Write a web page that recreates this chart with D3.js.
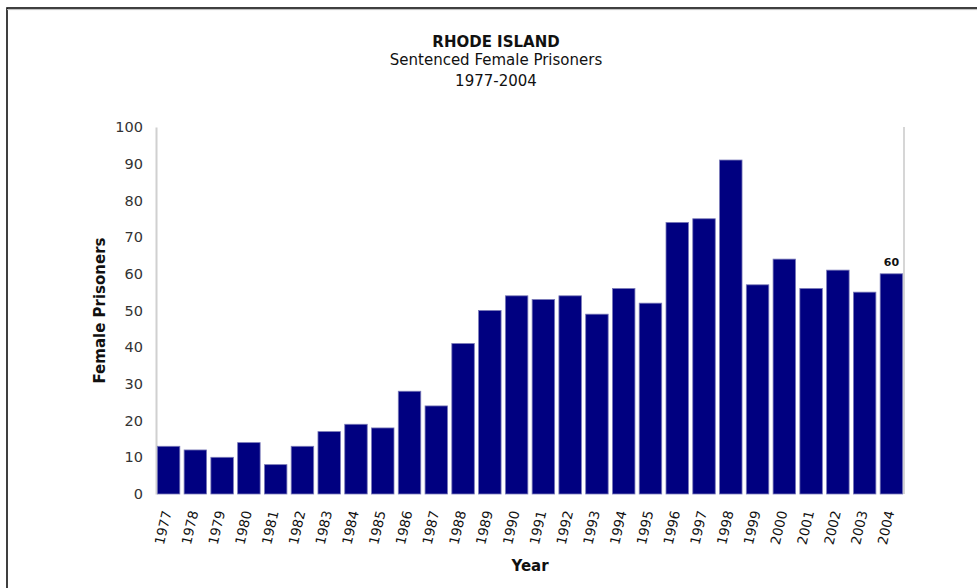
<!DOCTYPE html>
<html>
<head>
<meta charset="utf-8">
<script src="https://cdn.jsdelivr.net/npm/d3@7"></script>
<style>
  body { margin: 0; background: #fff; }
  text { font-family: "DejaVu Sans", Verdana, sans-serif; }
</style>
</head>
<body>
<div id="chart"></div>
<script>
var years = ["1977","1978","1979","1980","1981","1982","1983","1984","1985","1986",
             "1987","1988","1989","1990","1991","1992","1993","1994","1995","1996",
             "1997","1998","1999","2000","2001","2002","2003","2004"];
var prisoners = [13, 12, 10, 14, 8, 13, 17, 19, 18, 28,
                 24, 41, 50, 54, 53, 54, 49, 56, 52, 74,
                 75, 91, 57, 64, 56, 61, 55, 60];
var yTicks = [0, 10, 20, 30, 40, 50, 60, 70, 80, 90, 100];

var W = 977, H = 588;
var margin = {top: 127, right: 73, bottom: 94, left: 156},
    width = W - margin.left - margin.right,
    height = H - margin.top - margin.bottom;

var svg = d3.select("#chart")
    .append("svg")
    .attr("width", W)
    .attr("height", H);

// outer frame
svg.append("rect")
    .attr("x", 7)
    .attr("y", 8)
    .attr("width", 990)
    .attr("height", 600)
    .attr("fill", "none")
    .attr("stroke", "#111")
    .attr("stroke-width", 1.6);
svg.append("line")
    .attr("x1", 7).attr("x2", W)
    .attr("y1", 9.6).attr("y2", 9.6)
    .attr("stroke", "#bbb")
    .attr("stroke-width", 1);

// titles
svg.append("text")
    .attr("x", 496).attr("y", 47)
    .attr("text-anchor", "middle")
    .attr("font-size", "15px")
    .attr("font-weight", "bold")
    .attr("fill", "#111")
    .text("RHODE ISLAND");
svg.append("text")
    .attr("x", 496).attr("y", 65)
    .attr("text-anchor", "middle")
    .attr("font-size", "15px")
    .attr("fill", "#111")
    .text("Sentenced Female Prisoners");
svg.append("text")
    .attr("x", 496).attr("y", 86)
    .attr("text-anchor", "middle")
    .attr("font-size", "15px")
    .attr("fill", "#111")
    .text("1977-2004");

var g = svg.append("g")
    .attr("transform", "translate(" + margin.left + "," + margin.top + ")");

var x = d3.scaleBand()
    .domain(years)
    .range([0, width])
    .paddingInner(0.16)
    .paddingOuter(0.05);

var y = d3.scaleLinear()
    .domain([0, 100])
    .range([height, 0]);

// y axis
var yAxis = g.append("g")
    .call(d3.axisLeft(y).tickValues(yTicks).tickSize(0).tickPadding(13));
yAxis.select(".domain").attr("stroke", "#d0d0d0").attr("stroke-width", 2);
yAxis.selectAll("text")
    .attr("font-size", "14.5px")
    .attr("fill", "#333")
    .style("font-family", "'DejaVu Sans', Verdana, sans-serif");

// right edge line
g.append("line")
    .attr("x1", width).attr("x2", width)
    .attr("y1", 0).attr("y2", height)
    .attr("stroke", "#c8c8c8")
    .attr("stroke-width", 1.5);

// bars
g.selectAll("rect.bar")
    .data(years)
    .enter()
    .append("rect")
    .attr("class", "bar")
    .attr("x", function(d) { return x(d); })
    .attr("y", function(d, i) { return y(prisoners[i]); })
    .attr("width", x.bandwidth())
    .attr("height", function(d, i) { return height - y(prisoners[i]); })
    .attr("fill", "#000080")
    .attr("stroke", "#7a7ab8")
    .attr("stroke-width", 0.8);

// x labels
g.selectAll("text.xlab")
    .data(years)
    .enter()
    .append("text")
    .attr("class", "xlab")
    .attr("transform", function(d) {
        return "translate(" + (x(d) + x.bandwidth() / 2 + 3) + "," + (height + 18) + ") rotate(-77)";
    })
    .attr("text-anchor", "end")
    .attr("font-size", "13.5px")
    .attr("fill", "#111")
    .text(function(d) { return d; });

// value label on last bar
var last = years.length - 1;
g.append("text")
    .attr("x", x(years[last]) + x.bandwidth() / 2)
    .attr("y", y(prisoners[last]) - 8)
    .attr("text-anchor", "middle")
    .attr("font-size", "11px")
    .attr("font-weight", "bold")
    .attr("fill", "#111")
    .text(prisoners[last]);

// axis titles
svg.append("text")
    .attr("transform", "translate(105," + (margin.top + height / 2) + ") rotate(-90)")
    .attr("text-anchor", "middle")
    .attr("font-size", "15px")
    .attr("font-weight", "bold")
    .attr("fill", "#111")
    .text("Female Prisoners");

svg.append("text")
    .attr("x", margin.left + width / 2)
    .attr("y", 571)
    .attr("text-anchor", "middle")
    .attr("font-size", "15px")
    .attr("font-weight", "bold")
    .attr("fill", "#111")
    .text("Year");
</script>
</body>
</html>
